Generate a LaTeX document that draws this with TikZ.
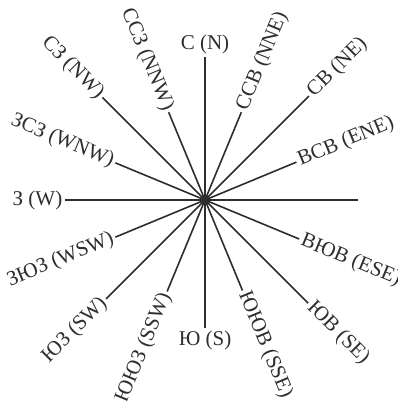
\documentclass[tikz,border=0pt]{standalone}
\usepackage{fontspec}
\setmainfont{Liberation Serif}
\usepackage{xcolor}
\usetikzlibrary{positioning}
\definecolor{RoseInk}  {HTML}{2E2E2E}
\definecolor{RosePaper}{HTML}{FFFFFF}
\tikzset{
  ray/.style={draw=RoseInk,line width=1.6pt},
  rlabel/.style={font=\fontsize{21}{21}\selectfont,text=RoseInk,inner sep=2.5pt},
}

\begin{document}
\begin{tikzpicture}[x=1pt,y=1pt]
    \useasboundingbox[fill=RosePaper] (-205,-201) rectangle (193,200);

    % Hub of the rose
    \node[circle,fill=RoseInk,inner sep=0pt,minimum size=11pt] (hub) at (0,0){};

    % Ends of the rays
    \coordinate (n)   at (90:143pt);
    \coordinate (nne) at (67.5:95pt);
    \coordinate (ne)  at (45:147pt);
    \coordinate (ene) at (22.5:99pt);
    \coordinate (e)   at (0:153pt);
    \coordinate (ese) at (-22.5:102pt);
    \coordinate (se)  at (-45:146pt);
    \coordinate (sse) at (-67.5:98pt);
    \coordinate (s)   at (-90:128pt);
    \coordinate (ssw) at (-112.5:99pt);
    \coordinate (sw)  at (-135:140pt);
    \coordinate (wsw) at (-157.5:97pt);
    \coordinate (w)   at (180:140pt);
    \coordinate (wnw) at (157.5:97pt);
    \coordinate (nw)  at (135:145pt);
    \coordinate (nnw) at (112.5:95pt);

    % Rays
    \draw[ray] (hub.center) -- (n);
    \draw[ray] (hub.center) -- (nne);
    \draw[ray] (hub.center) -- (ne);
    \draw[ray] (hub.center) -- (ene);
    \draw[ray] (hub.center) -- (e);
    \draw[ray] (hub.center) -- (ese);
    \draw[ray] (hub.center) -- (se);
    \draw[ray] (hub.center) -- (sse);
    \draw[ray] (hub.center) -- (s);
    \draw[ray] (hub.center) -- (ssw);
    \draw[ray] (hub.center) -- (sw);
    \draw[ray] (hub.center) -- (wsw);
    \draw[ray] (hub.center) -- (w);
    \draw[ray] (hub.center) -- (wnw);
    \draw[ray] (hub.center) -- (nw);
    \draw[ray] (hub.center) -- (nnw);

    % Labels, east half
    \node[rlabel,anchor=south]             (nlab)   at (n)  {С (N)};
    \node[rlabel,anchor=west,rotate=67.5]  (nnelab) at (nne){ССВ (NNE)};
    \node[rlabel,anchor=west,rotate=45]    (nelab)  at (ne) {СВ (NE)};
    \node[rlabel,anchor=west,rotate=22.5]  (enelab) at (ene){ВСВ (ENE)};
    \node[rlabel,anchor=west,rotate=-22.5] (eselab) at (ese){ВЮВ (ESE)};
    \node[rlabel,anchor=west,rotate=-45]   (selab)  at (se) {ЮВ (SE)};
    \node[rlabel,anchor=west,rotate=-67.5] (sselab) at (sse){ЮЮВ (SSE)};
    \node[rlabel,anchor=north]             (slab)   at (s)  {Ю (S)};

    % Labels, west half
    \node[rlabel,anchor=east,rotate=67.5]  (sswlab) at (ssw){ЮЮЗ (SSW)};
    \node[rlabel,anchor=east,rotate=45]    (swlab)  at (sw) {ЮЗ (SW)};
    \node[rlabel,anchor=east,rotate=22.5]  (wswlab) at (wsw){ЗЮЗ (WSW)};
    \node[rlabel,anchor=east]              (wlab)   at (w)  {З (W)};
    \node[rlabel,anchor=east,rotate=-22.5] (wnwlab) at (wnw){ЗСЗ (WNW)};
    \node[rlabel,anchor=east,rotate=-45]   (nwlab)  at (nw) {СЗ (NW)};
    \node[rlabel,anchor=east,rotate=-67.5] (nnwlab) at (nnw){ССЗ (NNW)};
  \end{tikzpicture}
\end{document}
